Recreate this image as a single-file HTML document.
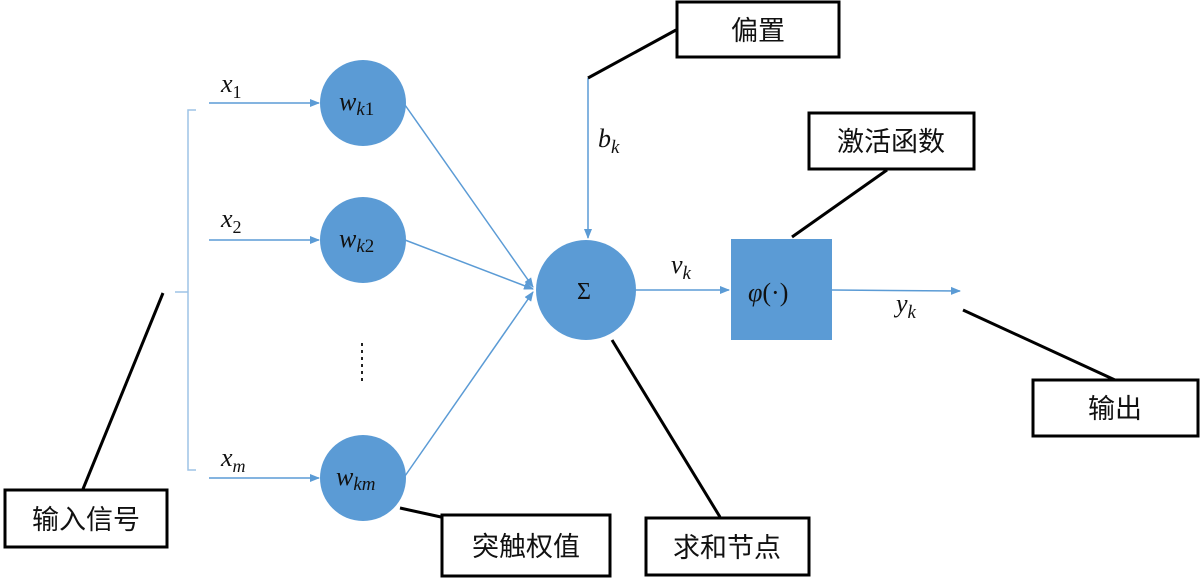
<!DOCTYPE html>
<html><head><meta charset="utf-8"><style>
html,body{margin:0;padding:0;background:#fff;width:1200px;height:587px;overflow:hidden}
svg{display:block}
.cn{font-family:"Liberation Sans","Noto Sans CJK SC",sans-serif;font-size:27px;fill:#111}
.m{font-family:"Liberation Serif",serif;font-style:italic;fill:#111}
</style></head><body>
<svg width="1200" height="587" viewBox="0 0 1200 587" xmlns="http://www.w3.org/2000/svg">
<defs><marker id="a" markerWidth="10" markerHeight="10" refX="9" refY="5" orient="auto" markerUnits="userSpaceOnUse"><path d="M0,1 L10,5 L0,9 z" fill="#5b9bd5"/></marker></defs>
<g stroke="#5b9bd5" stroke-width="1.5" fill="none">
<path d="M196,110 H188 V470 H196 M188,292 H175" stroke="#9dc3e6"/>
<line x1="209" y1="103" x2="319" y2="103" marker-end="url(#a)"/>
<line x1="209" y1="240" x2="319" y2="240" marker-end="url(#a)"/>
<line x1="209" y1="478" x2="319" y2="478" marker-end="url(#a)"/>
<line x1="405" y1="105" x2="533" y2="287" marker-end="url(#a)"/>
<line x1="405" y1="240" x2="533" y2="289" marker-end="url(#a)"/>
<line x1="405" y1="476" x2="533" y2="292" marker-end="url(#a)"/>
<line x1="588" y1="78" x2="588" y2="238" marker-end="url(#a)"/>
<line x1="635" y1="290" x2="729" y2="290" marker-end="url(#a)"/>
<line x1="832" y1="290" x2="960" y2="291" marker-end="url(#a)"/>
</g>
<g fill="#5b9bd5">
<circle cx="363" cy="103" r="43"/><circle cx="363" cy="240" r="43"/><circle cx="363" cy="478" r="43"/>
<circle cx="586" cy="290" r="50"/>
<rect x="731" y="239" width="101" height="101"/>
</g>
<g stroke="#000" stroke-width="3">
<line x1="588" y1="78" x2="676" y2="30"/>
<line x1="792" y1="237" x2="887" y2="170"/>
<line x1="963" y1="310" x2="1115" y2="380"/>
<line x1="612" y1="340" x2="720" y2="517"/>
<line x1="400" y1="508" x2="441" y2="517"/>
<line x1="163" y1="293" x2="83" y2="489"/>
</g>
<g fill="#fff" stroke="#000" stroke-width="3">
<rect x="677" y="2" width="162" height="55"/>
<rect x="809" y="113" width="165" height="56"/>
<rect x="1033" y="380" width="165" height="56"/>
<rect x="646" y="518" width="163" height="57"/>
<rect x="442" y="515" width="168" height="61"/>
<rect x="5" y="490" width="162" height="57"/>
</g>
<g class="cn" text-anchor="middle">
<text x="758" y="40">偏置</text>
<text x="891" y="151">激活函数</text>
<text x="1115" y="418">输出</text>
<text x="727" y="557">求和节点</text>
<text x="526" y="556">突触权值</text>
<text x="86" y="529">输入信号</text>
</g>
<g class="m" font-size="26">
<text x="221" y="92">x<tspan font-style="normal" font-size="18" dy="6">1</tspan></text>
<text x="221" y="227">x<tspan font-style="normal" font-size="18" dy="6">2</tspan></text>
<text x="221" y="466">x<tspan font-size="18" dy="6">m</tspan></text>
<text x="339" y="110">w<tspan font-size="19" dy="5">k</tspan><tspan font-style="normal" font-size="19">1</tspan></text>
<text x="339" y="247">w<tspan font-size="19" dy="5">k</tspan><tspan font-style="normal" font-size="19">2</tspan></text>
<text x="336" y="485">w<tspan font-size="19" dy="5">km</tspan></text>
<text x="598" y="147">b<tspan font-size="19" dy="6">k</tspan></text>
<text x="671" y="273">v<tspan font-size="19" dy="6">k</tspan></text>
<text x="896" y="312">y<tspan font-size="19" dy="6">k</tspan></text>
<text x="748" y="301">φ<tspan font-style="normal">(·)</tspan></text>
<text x="577" y="299" font-style="normal" font-size="24">Σ</text>
</g>
<g fill="#222"><rect x="361" y="343" width="2" height="3"/><rect x="361" y="350" width="2" height="3"/><rect x="361" y="357" width="2" height="3"/><rect x="361" y="364" width="2" height="3"/><rect x="361" y="371" width="2" height="3"/><rect x="361" y="378" width="2" height="3"/></g>
</svg>
</body></html>
